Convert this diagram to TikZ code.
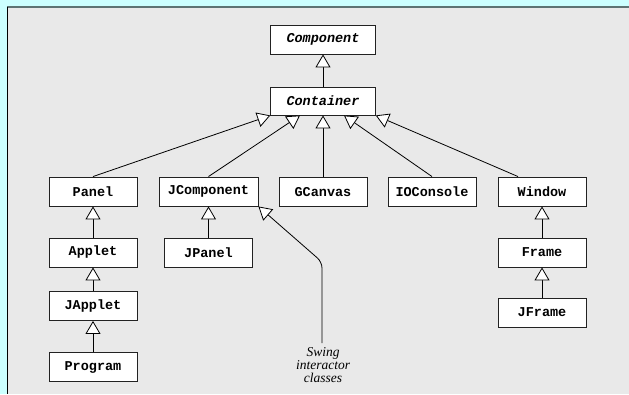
\documentclass[tikz,border=0pt]{standalone}
\usepackage{fontspec}
\setmainfont{Liberation Serif}
\setmonofont{Liberation Mono}
\usetikzlibrary{arrows.meta}
\definecolor{outerbg}{HTML}{CCFFFF}
\definecolor{panelbg}{HTML}{E9E9E9}
\definecolor{topedge}{HTML}{5E7373}
\definecolor{boxedge}{HTML}{222222}
\begin{document}
\begin{tikzpicture}[x=1pt,y=-1pt,
 cls/.style={draw=boxedge, fill=white, line width=0.9pt, minimum height=29pt, minimum width=88pt, inner sep=0pt, font=\fontsize{13.5}{13.5}\selectfont\ttfamily\bfseries},
 abscls/.style={cls, minimum width=104.6pt, font=\fontsize{13.5}{13.5}\selectfont\ttfamily\bfseries\itshape},
 inh/.style={draw=black, line width=0.8pt, -{Triangle[width=15pt,length=13pt,fill=white]}},
 note/.style={align=center, inner sep=0pt, font=\fontsize{13.5}{13}\selectfont\itshape}
]
\fill[outerbg] (0,0) rectangle (629,394);
\useasboundingbox (0,0) rectangle (629,394);
\fill[panelbg] (7,7) rectangle (629,394);
\draw[topedge, line width=2pt] (7,7) -- (629,7);
\draw[black, line width=1pt] (7.5,7) -- (7.5,394);

\node[abscls] (Component) at (323,39.5) {Component};
\node[abscls, minimum height=28pt] (Container) at (323,101) {Container};

\node[cls] (Panel) at (93,191.5) {Panel};
\node[cls, minimum width=99pt] (JComponent) at (208.5,191.5) {JComponent};
\node[cls] (GCanvas) at (323,192) {GCanvas};
\node[cls] (IOConsole) at (432,191.5) {IOConsole};
\node[cls] (Window) at (542,191.5) {Window};

\node[cls] (Applet) at (93,252.5) {Applet};
\node[cls] (JPanel) at (208.5,252.5) {JPanel};
\node[cls] (Frame) at (542,252.5) {Frame};

\node[cls] (JApplet) at (93,306) {JApplet};
\node[cls] (JFrame) at (542,312.5) {JFrame};

\node[cls] (Program) at (93,367) {Program};

\node[note, anchor=north] (swing) at (323,347) {Swing\\interactor\\classes};
\coordinate (bend) at (322,262);

\draw[inh] (Container.north) -- (Component.south);
\draw[inh] (Panel.north) -- (Container.south west);
\draw[inh] (JComponent.north) -- ([xshift=-23pt]Container.south);
\draw[inh] (GCanvas.north) -- (Container.south);
\draw[inh] (IOConsole.north) -- ([xshift=21pt]Container.south);
\draw[inh] ([xshift=-24pt]Window.north) -- (Container.south east);

\draw[inh] (Applet.north) -- (Panel.south);
\draw[inh] (JApplet.north) -- (Applet.south);
\draw[inh] (Program.north) -- (JApplet.south);
\draw[inh] (JPanel.north) -- (JComponent.south);
\draw[inh] (Frame.north) -- (Window.south);
\draw[inh] (JFrame.north) -- (Frame.south);

\draw[inh, rounded corners=6pt] ([yshift=4pt]swing.north -| bend) -- (bend) -- (JComponent.south east);
\end{tikzpicture}
\end{document}
